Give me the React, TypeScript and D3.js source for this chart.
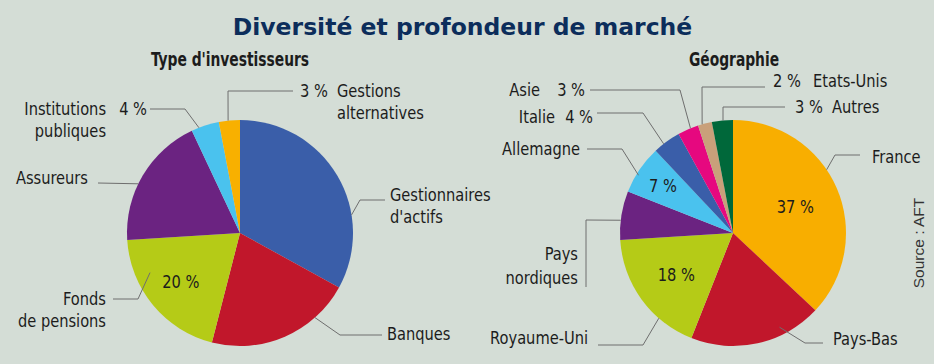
import * as d3 from "d3";

const W = 934;
const H = 364;
const R = 113;

// Type d'investisseurs (parts en %)
const investorNames = [
  "Gestionnaires\nd'actifs",
  "Banques",
  "Fonds\nde pensions",
  "Assureurs",
  "Institutions\npubliques",
  "Gestions\nalternatives",
];
const investorShares = [33, 21, 20, 19, 4, 3];

// Géographie (parts en %)
const geoNames = [
  "France",
  "Pays-Bas",
  "Royaume-Uni",
  "Pays\nnordiques",
  "Allemagne",
  "Italie",
  "Asie",
  "Etats-Unis",
  "Autres",
];
const geoShares = [37, 19, 18, 7, 7, 4, 3, 2, 3];

const investorColors = ["#3a5ea9", "#c1172b", "#b5cb17", "#6b2381", "#4ac2ee", "#f8b000"];
const geoColors = ["#f8ae00", "#c1172b", "#b5cb17", "#6b2381", "#4ac2ee", "#3a5ea9", "#e6087f", "#c9a07a", "#00683a"];

const BG = "#d4ddd6";
const INK = "#1c1c1c";
const LEADER = "#6e6e6e";
const FONT = "'Liberation Sans Narrow', 'DejaVu Sans Condensed', 'Arial Narrow', sans-serif";
const LABEL_SIZE = 18.5;
const SX = 0.88; // horizontal squeeze to get the condensed look

type Pos = { x: number; y: number; anchor?: "start" | "end" | "middle" };
type Layout = {
  t: number; // position of the leader start inside the slice (0..1)
  rf: number; // radius factor of the leader start
  pts: [number, number][]; // elbow / end of the leader, relative to the centre
  name: Pos;
  lh?: number;
  pct?: Pos;
  inside?: number; // radius factor of an inside percentage
};

const investorLayout: Layout[] = [
  { t: 0.68, rf: 1, pts: [[120, -33], [145, -33]], name: { x: 150, y: -32 }, lh: 22 },
  { t: 0.26, rf: 1, pts: [[100, 102], [142, 102]], name: { x: 147, y: 107 } },
  { t: 0.72, rf: 0.87, pts: [[-102, 66], [-127, 66]], name: { x: -134, y: 72, anchor: "end" }, lh: 22, inside: 0.68 },
  { t: 0.43, rf: 1, pts: [[-142, -50]], name: { x: -152, y: -49, anchor: "end" } },
  { t: 0.27, rf: 1, pts: [[-55, -124], [-90, -124]], name: { x: -134, y: -118, anchor: "end" }, lh: 22, pct: { x: -93, y: -118, anchor: "end" } },
  { t: 0.44, rf: 1, pts: [[-12, -142], [53, -142]], name: { x: 97, y: -136 }, lh: 22, pct: { x: 60, y: -136 } },
];

const geoLayout: Layout[] = [
  { t: 0.42, rf: 1, pts: [[102, -78], [127, -78]], name: { x: 139, y: -70 }, inside: 0.6 },
  { t: 0.3, rf: 0.93, pts: [[72, 110], [90, 110]], name: { x: 100, y: 112 } },
  { t: 0.3, rf: 1, pts: [[-90, 112], [-135, 112]], name: { x: -145, y: 111, anchor: "end" }, inside: 0.62 },
  { t: 0.4, rf: 1, pts: [[-147, -13], [-147, 54]], name: { x: -155, y: 27, anchor: "end" }, lh: 24 },
  { t: 0.39, rf: 0.98, pts: [[-111, -84], [-146, -84]], name: { x: -153, y: -78, anchor: "end" }, inside: 0.75 },
  { t: 0.37, rf: 1, pts: [[-90, -120], [-136, -120]], name: { x: -178, y: -110, anchor: "end" }, pct: { x: -140, y: -110, anchor: "end" } },
  { t: 0.62, rf: 1, pts: [[-53, -143], [-143, -143]], name: { x: -193, y: -137, anchor: "end" }, pct: { x: -148, y: -137, anchor: "end" } },
  { t: 0.3, rf: 1, pts: [[-31, -146], [32, -146]], name: { x: 80, y: -146 }, pct: { x: 40, y: -146 } },
  { t: 0.53, rf: 1, pts: [[-10, -126], [52, -126]], name: { x: 99, y: -120 }, pct: { x: 62, y: -120 } },
];

function T({ x, y, anchor = "start", size = LABEL_SIZE, sx = SX, bold = false, children }: {
  x: number; y: number; anchor?: string; size?: number; sx?: number; bold?: boolean; children: string;
}) {
  return (
    <text
      transform={`translate(${x},${y}) scale(${sx},1)`}
      textAnchor={anchor}
      fontFamily={FONT}
      fontWeight={bold ? "bold" : "normal"}
      fontSize={size}
      fill={INK}
    >
      {children}
    </text>
  );
}

function Pie({ cx, cy, title, titleDx, names, shares, colors, layout }: {
  cx: number; cy: number; title: string; titleDx: number; names: string[]; shares: number[]; colors: string[]; layout: Layout[];
}) {
  const arcs = d3.pie<number>().sort(null).value((d) => d)(shares);
  const arc = d3.arc<d3.PieArcDatum<number>>().innerRadius(0).outerRadius(R);
  const polar = (a: number, r: number): [number, number] => [r * Math.sin(a), -r * Math.cos(a)];
  const line = d3.line();

  return (
    <g transform={`translate(${cx},${cy})`}>
      <T x={titleDx} y={-167} anchor="middle" size={19} sx={0.81} bold>{title}</T>
      {arcs.map((a, i) => (
        <path key={i} d={arc(a) || ""} fill={colors[i]} />
      ))}
      {arcs.map((a, i) => {
        const L = layout[i];
        const start = polar(a.startAngle + (a.endAngle - a.startAngle) * L.t, R * L.rf);
        const lines = names[i].split("\n");
        const anchor = L.name.anchor || "start";
        let inside = null;
        if (L.inside) {
          const c = d3.arc<d3.PieArcDatum<number>>().innerRadius(R * L.inside).outerRadius(R * L.inside).centroid(a);
          inside = <T x={c[0]} y={c[1] + 6.5} anchor="middle">{`${shares[i]} %`}</T>;
        }
        return (
          <g key={`l${i}`}>
            <path d={line([start, ...L.pts]) || ""} fill="none" stroke={LEADER} strokeWidth={1} />
            {lines.map((s, j) => (
              <T key={j} x={L.name.x} y={L.name.y + j * (L.lh || 22)} anchor={anchor}>{s}</T>
            ))}
            {L.pct && (
              <T x={L.pct.x} y={L.pct.y} anchor={L.pct.anchor || "start"}>{`${shares[i]} %`}</T>
            )}
            {inside}
          </g>
        );
      })}
    </g>
  );
}

export default function App() {
  return (
    <svg width={W} height={H} style={{ position: "absolute", left: 0, top: 0, display: "block" }}>
      <rect width={W} height={H} fill={BG} />
      <text
        x={462.5}
        y={35}
        textAnchor="middle"
        fontFamily="'DejaVu Sans', 'Liberation Sans', sans-serif"
        fontWeight="bold"
        fontSize={23.5}
        fill="#0c2d5b"
      >
        Diversité et profondeur de marché
      </text>
      <Pie cx={240} cy={233} title="Type d'investisseurs" titleDx={-10} names={investorNames} shares={investorShares} colors={investorColors} layout={investorLayout} />
      <Pie cx={733} cy={233} title="Géographie" titleDx={1} names={geoNames} shares={geoShares} colors={geoColors} layout={geoLayout} />
      <text transform="translate(924,243) rotate(-90)" textAnchor="middle" fontFamily="'Liberation Sans', Arial, sans-serif" fontSize={15.5} fill="#333">
        Source : AFT
      </text>
    </svg>
  );
}
